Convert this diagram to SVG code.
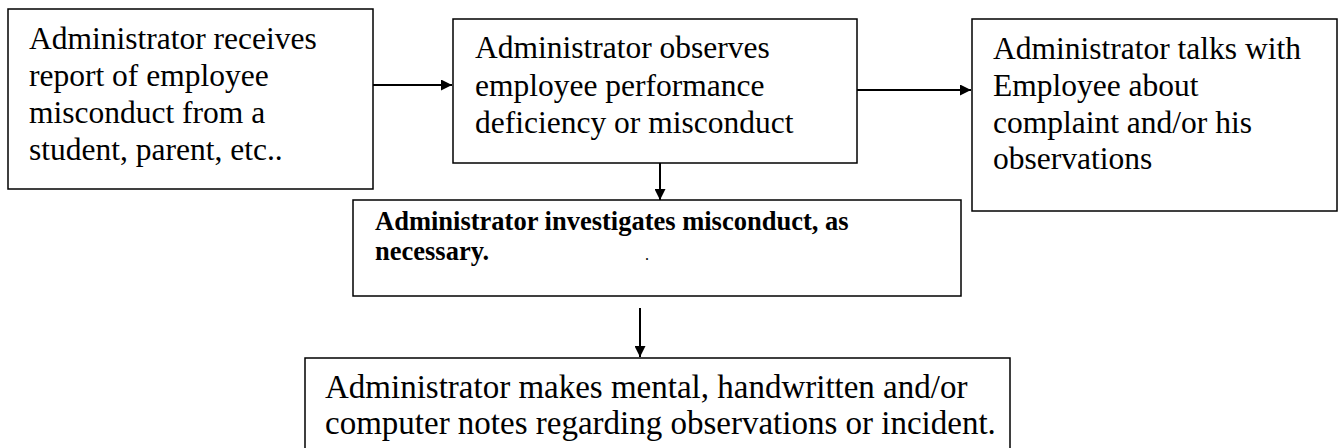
<svg xmlns="http://www.w3.org/2000/svg" width="1338" height="448" viewBox="0 0 1338 448">
  <style>
    .box { fill: #ffffff; stroke: #000000; stroke-width: 1.5; }
    .txt { font-family: "Liberation Serif", "Times New Roman", serif; font-size: 31.5px; fill: #000000; }
    .bold { font-family: "Liberation Serif", "Times New Roman", serif; font-size: 26.5px; font-weight: bold; fill: #000000; }
    .big { font-size: 33px; }
    .conn { stroke: #000000; stroke-width: 2; fill: none; }
  </style>
  <defs>
    <marker id="head" viewBox="0 0 10 10" refX="10" refY="5" markerWidth="7" markerHeight="5.5" markerUnits="strokeWidth" orient="auto">
      <path d="M0,0 L10,5 L0,10 Z" fill="#000000"/>
    </marker>
  </defs>
  <rect width="1338" height="448" fill="#ffffff"/>

  <g id="connectors">
    <line class="conn" x1="373" y1="85" x2="452" y2="85" marker-end="url(#head)"/>
    <line class="conn" x1="857" y1="90" x2="971" y2="90" marker-end="url(#head)"/>
    <line class="conn" x1="660" y1="163" x2="660" y2="200" marker-end="url(#head)"/>
    <line class="conn" x1="640" y1="308" x2="640" y2="357" marker-end="url(#head)"/>
  </g>

  <g id="node-report">
    <rect class="box" x="8" y="9" width="365" height="180"/>
    <text class="txt" x="29" y="49">Administrator receives</text>
    <text class="txt" x="29" y="86">report of employee</text>
    <text class="txt" x="29" y="123">misconduct from a</text>
    <text class="txt" x="29" y="160">student, parent, etc..</text>
  </g>

  <g id="node-observe">
    <rect class="box" x="453" y="19" width="404" height="144"/>
    <text class="txt" x="475" y="58">Administrator observes</text>
    <text class="txt" x="475" y="96">employee performance</text>
    <text class="txt" x="475" y="133">deficiency or misconduct</text>
  </g>

  <g id="node-talk">
    <rect class="box" x="972" y="19" width="365" height="192"/>
    <text class="txt" x="993" y="59">Administrator talks with</text>
    <text class="txt" x="993" y="96">Employee about</text>
    <text class="txt" x="993" y="133">complaint and/or his</text>
    <text class="txt" x="993" y="169">observations</text>
  </g>

  <g id="node-investigate">
    <rect class="box" x="353" y="200" width="608" height="96"/>
    <text class="bold" x="375" y="230">Administrator investigates misconduct, as</text>
    <text class="bold" x="375" y="260">necessary.</text>
    <text class="txt" x="645" y="260" style="font-size:16px">.</text>
  </g>

  <g id="node-notes">
    <rect class="box" x="305" y="358" width="705" height="110"/>
    <text class="txt big" x="325" y="398">Administrator makes mental, handwritten and/or</text>
    <text class="txt big" x="325" y="434">computer notes regarding observations or incident.</text>
  </g>
</svg>
